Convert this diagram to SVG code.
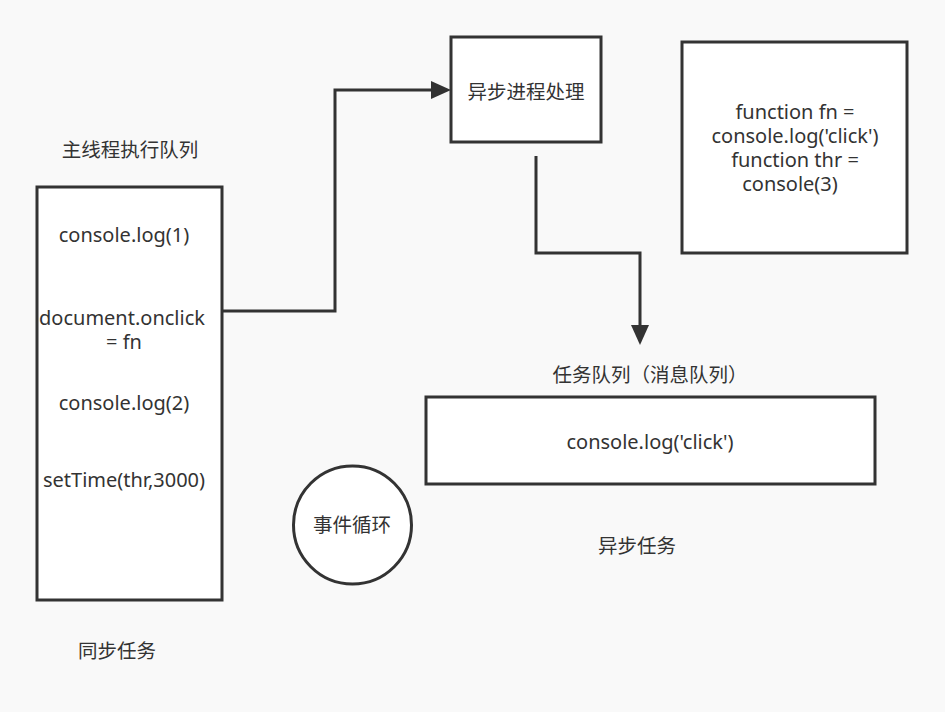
<svg xmlns="http://www.w3.org/2000/svg" width="945" height="712" viewBox="0 0 945 712">
<defs>
<style>
.bg{fill:#f9f9f9}
.box{fill:#ffffff;stroke:#333333;stroke-width:3}
.t{font-family:"Noto Sans","Noto Sans CJK SC",sans-serif;font-size:20px;fill:#333333;text-anchor:middle}
.z{font-size:19.5px}
.c{fill:none;stroke:#333333;stroke-width:3}
</style>
</defs>
<rect class="bg" x="0" y="0" width="945" height="712"/>
<g id="connectors">
<path class="c" d="M222,311 H335 V90 H433" />
<path d="M431,81 L451,90 L431,99 Z" fill="#333333"/>
<path class="c" d="M536,156 V253 H640 V327" />
<path d="M631,325 L640,345 L649,325 Z" fill="#333333"/>
</g>
<g id="main-queue-label"><text class="t z" x="130" y="157">主线程执行队列</text></g>
<g id="main-queue">
<rect class="box" x="37" y="187" width="185" height="413"/>
<text class="t" x="124" y="242">console.log(1)</text>
<text class="t" x="122" y="325">document.onclick</text>
<text class="t" x="124" y="349">= fn</text>
<text class="t" x="124" y="410">console.log(2)</text>
<text class="t" x="124" y="487">setTime(thr,3000)</text>
</g>
<g id="sync-label"><text class="t z" x="117" y="658">同步任务</text></g>
<g id="async-process">
<rect class="box" x="451" y="37" width="150" height="105"/>
<text class="t z" x="526" y="99">异步进程处理</text>
</g>
<g id="functions">
<rect class="box" x="682" y="42" width="225" height="211"/>
<text class="t" x="795" y="119">function fn =</text>
<text class="t" x="795" y="143">console.log('click')</text>
<text class="t" x="795" y="167">function thr =</text>
<text class="t" x="790" y="191">console(3)</text>
</g>
<g id="task-queue-label"><text class="t z" x="650" y="382">任务队列（消息队列）</text></g>
<g id="task-queue">
<rect class="box" x="426" y="397" width="449" height="87"/>
<text class="t" x="650" y="449">console.log('click')</text>
</g>
<g id="async-label"><text class="t z" x="637" y="553">异步任务</text></g>
<g id="event-loop">
<circle class="box" cx="352.5" cy="525" r="59"/>
<text class="t z" x="352" y="532">事件循环</text>
</g>
</svg>
